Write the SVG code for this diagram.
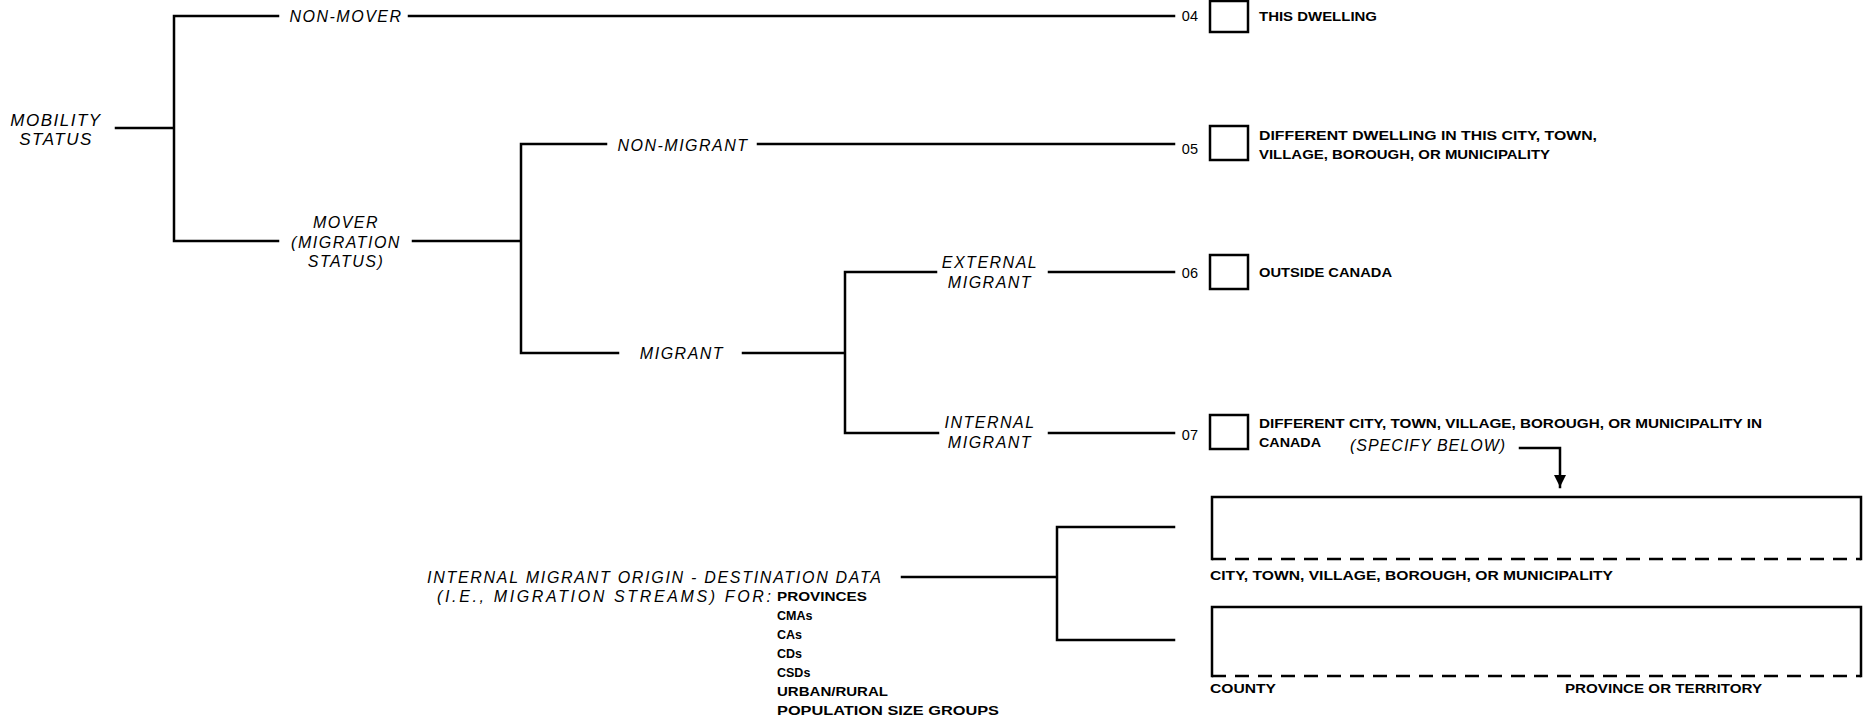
<svg xmlns="http://www.w3.org/2000/svg" width="1869" height="718" viewBox="0 0 1869 718">
<defs>
<style>
.ln{stroke:#000;stroke-width:2.5;fill:none;stroke-linecap:square}
.bx{stroke:#000;stroke-width:2.5;fill:#fff}
.lab{font-family:"Liberation Sans",Arial,sans-serif;font-style:italic;font-size:16px;fill:#000;text-anchor:middle;letter-spacing:1.5px}
.big{font-size:17px}
.sm{font-family:"Liberation Sans",Arial,sans-serif;font-weight:bold;font-size:12.5px;fill:#000}
.num{font-family:"Liberation Sans",Arial,sans-serif;font-size:14.5px;fill:#000;text-anchor:end}
.dash{stroke:#000;stroke-width:2.5;fill:none;stroke-dasharray:14 9}
</style>
<marker id="ah" viewBox="0 0 12 12" refX="12" refY="6" markerWidth="12" markerHeight="12" markerUnits="userSpaceOnUse" orient="auto">
<path d="M0,0 L12,6 L0,12 Z" fill="#000"/>
</marker>
</defs>
<rect width="1869" height="718" fill="#fff"/>

<g id="connectors">
<path class="ln" d="M116,128 H174 M174,16 V241 M174,16 H278 M174,241 H278"/>
<path class="ln" d="M409,16 H1174"/>
<path class="ln" d="M413,241 H521 M521,144 V353 M521,144 H606 M521,353 H618"/>
<path class="ln" d="M758,144 H1174"/>
<path class="ln" d="M743,353 H845 M845,272 V433 M845,272 H936 M845,433 H938"/>
<path class="ln" d="M1049,272 H1174 M1049,433 H1174"/>
<path class="ln" d="M902,577 H1057 M1057,527 V640 M1057,527 H1174 M1057,640 H1174"/>
<path class="ln" d="M1520,448 H1560 V487" marker-end="url(#ah)"/>
</g>

<g id="mobility-status"><text class="lab big" x="56" y="126">MOBILITY</text><text class="lab big" x="56" y="145">STATUS</text></g>
<g id="non-mover"><text class="lab" x="346" y="22">NON-MOVER</text></g>
<g id="mover"><text class="lab" x="346" y="228">MOVER</text><text class="lab" x="346" y="248">(MIGRATION</text><text class="lab" x="346" y="267">STATUS)</text></g>
<g id="non-migrant"><text class="lab" x="683" y="151">NON-MIGRANT</text></g>
<g id="migrant"><text class="lab" x="682" y="359">MIGRANT</text></g>
<g id="external-migrant"><text class="lab" x="990" y="268">EXTERNAL</text><text class="lab" x="990" y="288">MIGRANT</text></g>
<g id="internal-migrant"><text class="lab" x="990" y="428">INTERNAL</text><text class="lab" x="990" y="448">MIGRANT</text></g>

<g id="opt-04"><text class="num" x="1198" y="21">04</text><rect class="bx" x="1210" y="1" width="38" height="31"/><text class="sm" x="1259" y="21" textLength="118" lengthAdjust="spacingAndGlyphs">THIS DWELLING</text></g>
<g id="opt-05"><text class="num" x="1198" y="154">05</text><rect class="bx" x="1210" y="126" width="38" height="34"/><text class="sm" x="1259" y="140" textLength="338" lengthAdjust="spacingAndGlyphs">DIFFERENT DWELLING IN THIS CITY, TOWN,</text><text class="sm" x="1259" y="159" textLength="291" lengthAdjust="spacingAndGlyphs">VILLAGE, BOROUGH, OR MUNICIPALITY</text></g>
<g id="opt-06"><text class="num" x="1198" y="278">06</text><rect class="bx" x="1210" y="255" width="38" height="34"/><text class="sm" x="1259" y="277" textLength="133" lengthAdjust="spacingAndGlyphs">OUTSIDE CANADA</text></g>
<g id="opt-07"><text class="num" x="1198" y="440">07</text><rect class="bx" x="1210" y="415" width="38" height="34"/><text class="sm" x="1259" y="428" textLength="503" lengthAdjust="spacingAndGlyphs">DIFFERENT CITY, TOWN, VILLAGE, BOROUGH, OR MUNICIPALITY IN</text><text class="sm" x="1259" y="447" textLength="62" lengthAdjust="spacingAndGlyphs">CANADA</text><text class="lab" style="text-anchor:start;letter-spacing:1px" x="1350" y="451">(SPECIFY BELOW)</text></g>

<g id="city-box"><path class="ln" d="M1212,559 V497 H1861 V559"/><path class="dash" d="M1212,559 H1861"/><text class="sm" x="1210" y="580" textLength="403" lengthAdjust="spacingAndGlyphs">CITY, TOWN, VILLAGE, BOROUGH, OR MUNICIPALITY</text></g>
<g id="county-box"><path class="ln" d="M1212,676 V607 H1861 V676"/><path class="dash" d="M1212,676 H1861"/><text class="sm" x="1210" y="693" textLength="66" lengthAdjust="spacingAndGlyphs">COUNTY</text><text class="sm" x="1565" y="693" textLength="197" lengthAdjust="spacingAndGlyphs">PROVINCE OR TERRITORY</text></g>

<g id="origin-destination"><text class="lab" style="text-anchor:start;letter-spacing:1px" x="427" y="583" textLength="455">INTERNAL MIGRANT ORIGIN - DESTINATION DATA</text><text class="lab" style="text-anchor:start;letter-spacing:1px" x="437" y="602" textLength="335">(I.E., MIGRATION STREAMS) FOR:</text>
<text class="sm" x="777" y="601" textLength="90" lengthAdjust="spacingAndGlyphs">PROVINCES</text><text class="sm" x="777" y="620">CMAs</text><text class="sm" x="777" y="639">CAs</text><text class="sm" x="777" y="658">CDs</text><text class="sm" x="777" y="677">CSDs</text><text class="sm" x="777" y="696" textLength="111" lengthAdjust="spacingAndGlyphs">URBAN/RURAL</text><text class="sm" x="777" y="715" textLength="222" lengthAdjust="spacingAndGlyphs">POPULATION SIZE GROUPS</text></g>
</svg>
